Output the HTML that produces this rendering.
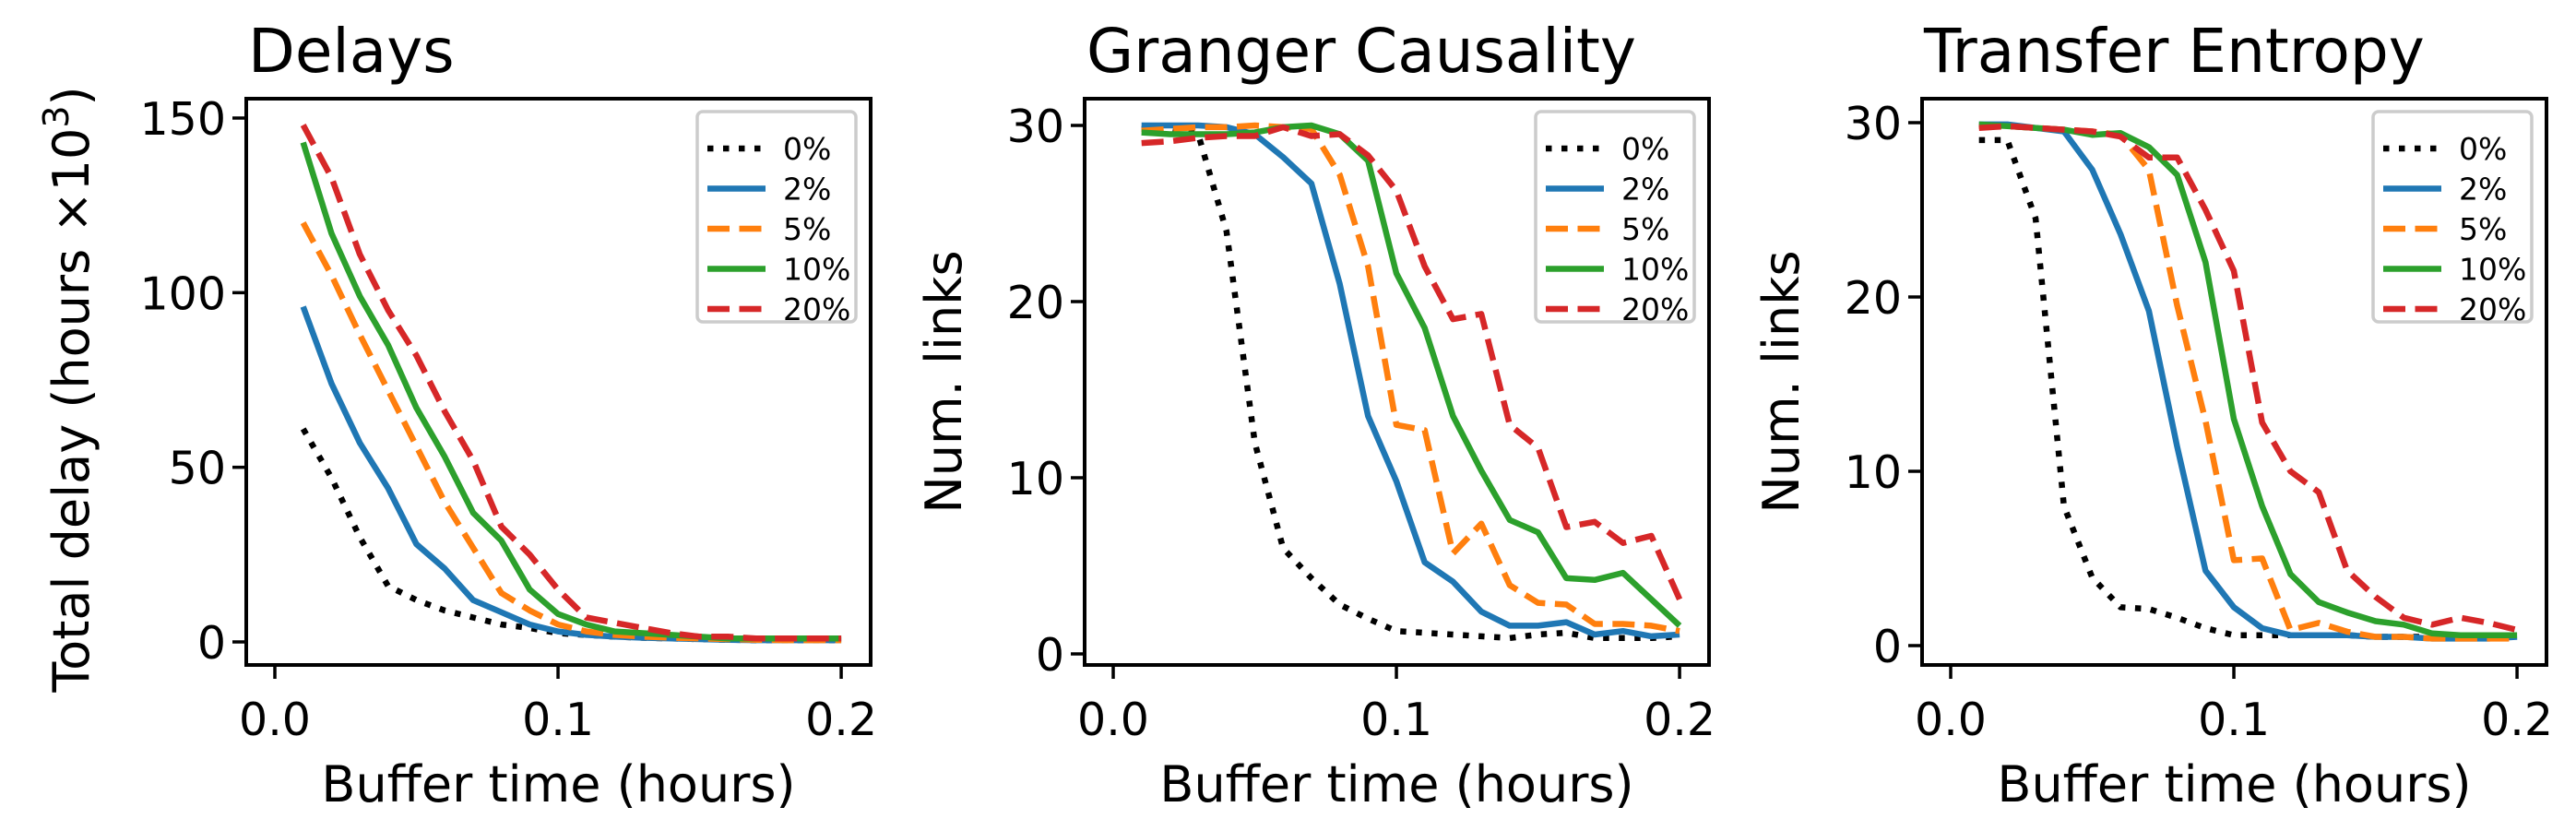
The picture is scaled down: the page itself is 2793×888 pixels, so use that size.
<!DOCTYPE html>
<html><head><meta charset="utf-8">
<style>
html,body{margin:0;padding:0;background:#fff;}
svg{display:block;font-family:"DejaVu Sans","Liberation Sans",sans-serif;}
</style></head>
<body>
<svg id="fig" width="2793" height="888" viewBox="0 0 2793 888" xmlns="http://www.w3.org/2000/svg"></svg>
<script>
const xValues = [0.01,0.02,0.03,0.04,0.05,0.06,0.07,0.08,0.09,0.10,0.11,0.12,0.13,0.14,0.15,0.16,0.17,0.18,0.19,0.20];
const seriesNames = ["0%","2%","5%","10%","20%"];
const xTicks = [0.0,0.1,0.2];
const xTickLabels = ["0.0","0.1","0.2"];
const delayTicks = [0,50,100,150];
const linkTicks = [0,10,20,30];

const delays0 = [61,47,30,16,12,9,7,5,4,2.5,2,1.5,1.2,1,0.8,0.6,0.5,0.5,0.5,0.5];
const delays2 = [96,74,57,44,28,21,12,8.5,5,3,2,1.5,1.2,1,0.8,0.6,0.5,0.5,0.5,0.5];
const delays5 = [120,105,88,72,56,40,27,14,9,5,3,2,1.5,1.2,1,0.8,0.6,0.5,0.5,0.5];
const delays10 = [143,117,99,85,67,53,37,29,15,8,5,3,2.5,2,1.5,1,1,1,1,1];
const delays20 = [148,133,111,95,82,66,52,33,25,15,7,5.5,4,2.5,1.5,1.5,1,1,1,1];

const granger0 = [29.8,29.8,29.5,24,12,6,4.3,2.8,2,1.3,1.2,1.1,1.0,0.9,1.1,1.2,0.9,0.9,0.9,1.0];
const granger2 = [30,30,30,29.9,29.5,28.2,26.7,21,13.5,9.8,5.2,4.1,2.4,1.6,1.6,1.8,1.1,1.3,1.0,1.1];
const granger5 = [29.7,29.8,29.9,29.9,30,29.9,29.8,27.2,22,13,12.7,5.7,7.4,3.9,2.9,2.8,1.7,1.7,1.6,1.3];
const granger10 = [29.6,29.5,29.5,29.5,29.6,29.9,30,29.5,28,21.6,18.5,13.5,10.4,7.6,6.9,4.3,4.2,4.6,3.1,1.6];
const granger20 = [29,29.1,29.3,29.4,29.4,29.9,29.4,29.5,28.3,26.3,22,19,19.3,13,11.7,7.2,7.5,6.3,6.7,3.1];

const te0 = [29,29,24.5,8,3.9,2.2,2.1,1.6,1.0,0.6,0.6,0.6,0.6,0.6,0.5,0.5,0.5,0.5,0.5,0.5];
const te2 = [29.9,29.9,29.7,29.5,27.3,23.6,19.2,11.4,4.3,2.2,1.0,0.6,0.6,0.6,0.5,0.5,0.4,0.4,0.4,0.5];
const te5 = [29.8,29.8,29.7,29.6,29.5,29.3,27.3,19.5,12.9,4.9,5.0,0.9,1.3,0.8,0.5,0.5,0.4,0.4,0.4,0.4];
const te10 = [29.9,29.8,29.7,29.6,29.3,29.4,28.6,27,22,13,8,4.1,2.5,1.9,1.4,1.2,0.7,0.6,0.6,0.6];
const te20 = [29.7,29.8,29.7,29.6,29.5,29.2,28,28,25,21.5,12.8,10,8.8,4.3,2.8,1.6,1.2,1.6,1.3,0.9];

const NS="http://www.w3.org/2000/svg";
const fig=document.getElementById('fig');
const colors=["#000000","#1f77b4","#ff7f0e","#2ca02c","#d62728"];
const dashes=["6.5,10.5","","24,10.5","","24,10.5"];
function mk(tag,attrs,parent){const e=document.createElementNS(NS,tag);for(const k in attrs)e.setAttribute(k,attrs[k]);(parent||fig).appendChild(e);return e;}

function panel(cfg){
  const g=mk('g',{});
  
  
  const L=cfg.left,R=cfg.left+677,T=107,B=721;
  const xmin=-0.0101,xmax=0.2104;
  const sx=v=>L+(v-xmin)/(xmax-xmin)*(R-L);
  const sy=v=>cfg.y0+(v)*(cfg.yTop-cfg.y0)/cfg.yTopVal;
  cfg.series.forEach((arr,i)=>{
    const p=mk('polyline',{points:arr.map((v,j)=>sx(xValues[j]).toFixed(1)+','+sy(v).toFixed(1)).join(' '),fill:'none',stroke:colors[i],'stroke-width':6.5,'stroke-dasharray':dashes[i]||'none','stroke-linejoin':'round'},g);
    
    
  });
  const fr=mk('rect',{x:L,y:T,width:R-L,height:B-T,fill:'none',stroke:'#000','stroke-width':4},g);
  
  
  xTicks.forEach((t,i)=>{
    const x=sx(t);
    mk('line',{x1:x,x2:x,y1:B,y2:B+15,stroke:'#000','stroke-width':3.5},g);
    const tx=mk('text',{x:x,y:797,'font-size':49,'text-anchor':'middle'},g);
    tx.textContent=xTickLabels[i];
    
    
  });
  cfg.yTicks.forEach(t=>{
    const y=sy(t);
    mk('line',{x1:L-15,x2:L,y1:y,y2:y,stroke:'#000','stroke-width':3.5},g);
    const tx=mk('text',{x:L-22,y:y+18,'font-size':49,'text-anchor':'end'},g);
    tx.textContent=String(t);
    
    
  });
  const xl=mk('text',{x:(L+R)/2,y:869,'font-size':54,'text-anchor':'middle'},g);
  xl.textContent='Buffer time (hours)';
  
  
  const yl=mk('text',{x:0,y:0,'font-size':54,'text-anchor':'middle',transform:`translate(${cfg.ylx},${cfg.yly}) rotate(-90)`},g);
  
  
  if(cfg.sup){yl.appendChild(document.createTextNode('Total delay (hours \u00d710'));const ts=mk('tspan',{dy:-22,'font-size':38},yl);ts.textContent='3';const ts2=mk('tspan',{dy:22},yl);ts2.textContent=')';}
  else yl.textContent=cfg.ylabel;
  const ti=mk('text',{x:L+2,y:78,'font-size':66},g);
  ti.textContent=cfg.title;
  
  
  const lg=mk('g',{},g);
  
  
  const lx=R-188,ly=T+14;
  mk('rect',{x:lx,y:ly,width:172,height:228,rx:6,fill:'#fff','fill-opacity':0.8,stroke:'#cccccc','stroke-width':3.5},lg);
  seriesNames.forEach((n,i)=>{
    const y=ly+40+i*43.5;
    const e=mk('g',{},lg);
    
    
    mk('line',{x1:lx+11,x2:lx+74,y1:y,y2:y,stroke:colors[i],'stroke-width':6.5,'stroke-dasharray':dashes[i]||'none'},e);
    const t=mk('text',{x:lx+93,y:y+12,'font-size':33},e);
    t.textContent=n;
  });
}
panel({name:'delays-chart',left:267,title:'Delays',series:[delays0,delays2,delays5,delays10,delays20],yTicks:delayTicks,y0:696,yTop:128,yTopVal:150,sup:true,ylx:96,yly:422});
panel({name:'granger-causality-chart',left:1176,title:'Granger Causality',series:[granger0,granger2,granger5,granger10,granger20],yTicks:linkTicks,y0:709,yTop:136,yTopVal:30,ylabel:'Num. links',ylx:1042,yly:414});
panel({name:'transfer-entropy-chart',left:2084,title:'Transfer Entropy',series:[te0,te2,te5,te10,te20],yTicks:linkTicks,y0:700,yTop:133,yTopVal:30,ylabel:'Num. links',ylx:1950,yly:414});
</script>
</body></html>
